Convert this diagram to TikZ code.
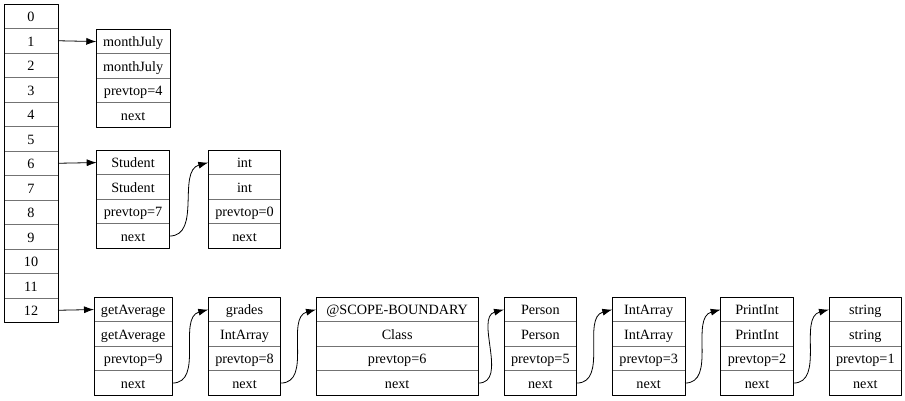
\documentclass[tikz,border=0pt]{standalone}
\usepackage{fontspec}
\setmainfont{Liberation Serif}
\usetikzlibrary{positioning,arrows.meta}
\begin{document}
\begin{tikzpicture}[x=1pt,y=-1pt,line join=round,
	cell/.style={draw=black!55,line width=0.9pt,minimum height=24.5pt,inner sep=0pt,outer sep=0pt,
		text height=10.8pt,text depth=0pt,font=\fontsize{14.2}{16}\selectfont},
	frame/.style={draw=black,line width=0.9pt},
	link/.style={-{Latex[length=10pt,width=7pt]},line width=0.8pt}]
	\def\ch{24.5} % cell height
	% name, x, y, width, four fields
	\def\rec#1#2#3#4#5#6#7#8{
		\node[cell,minimum width=#4pt,anchor=north west] (#1-1) at (#2,#3) {#5};
		\node[cell,minimum width=#4pt,below=0pt of #1-1] (#1-2) {#6};
		\node[cell,minimum width=#4pt,below=0pt of #1-2] (#1-3) {#7};
		\node[cell,minimum width=#4pt,below=0pt of #1-3] (#1-4) {#8};
		\draw[frame] (#1-1.north west) rectangle (#1-4.south east);
	}
	\useasboundingbox (0,0) rectangle (905,400);
	
	% the table
	\foreach \i in {0,...,12}
		\node[cell,minimum width=54pt,anchor=north west] (a\i) at (4,{4+\ch*\i}) {\i};
	\draw[frame] (a0.north west) rectangle (a12.south east);
	
	\rec{mj}{96.3}{29.3}{73.7}{monthJuly}{monthJuly}{prevtop=4}{next}
	\rec{st}{96.7}{150.3}{72.6}{Student}{Student}{prevtop=7}{next}
	\rec{it}{208.3}{150.3}{72.4}{int}{int}{prevtop=0}{next}
	\rec{ga}{94}{297.3}{78.3}{getAverage}{getAverage}{prevtop=9}{next}
	\rec{gr}{208.3}{297.3}{72.4}{grades}{IntArray}{prevtop=8}{next}
	\rec{sb}{316}{297.3}{162.3}{@SCOPE-BOUNDARY}{Class}{prevtop=6}{next}
	\rec{pe}{504}{297.3}{72.7}{Person}{Person}{prevtop=5}{next}
	\rec{ia}{612.3}{297.3}{72.7}{IntArray}{IntArray}{prevtop=3}{next}
	\rec{pi}{720.7}{297.3}{72.6}{PrintInt}{PrintInt}{prevtop=2}{next}
	\rec{sg}{829}{297.3}{72.7}{string}{string}{prevtop=1}{next}
	
	\draw[link] (a1.east) -- (mj-1.west);
	\draw[link] (a6.east) -- (st-1.west);
	\draw[link] (a12.east) -- (ga-1.west);
	
	\draw[link] (st-4.east) to[out=0,in=195] (it-1.west);
	\draw[link] (ga-4.east) to[out=0,in=195] (gr-1.west);
	\draw[link] (gr-4.east) to[out=0,in=195] (sb-1.west);
	\draw[link] (sb-4.east) to[out=0,in=195] (pe-1.west);
	\draw[link] (pe-4.east) to[out=0,in=195] (ia-1.west);
	\draw[link] (ia-4.east) to[out=0,in=195] (pi-1.west);
	\draw[link] (pi-4.east) to[out=0,in=195] (sg-1.west);
\end{tikzpicture}
\end{document}
